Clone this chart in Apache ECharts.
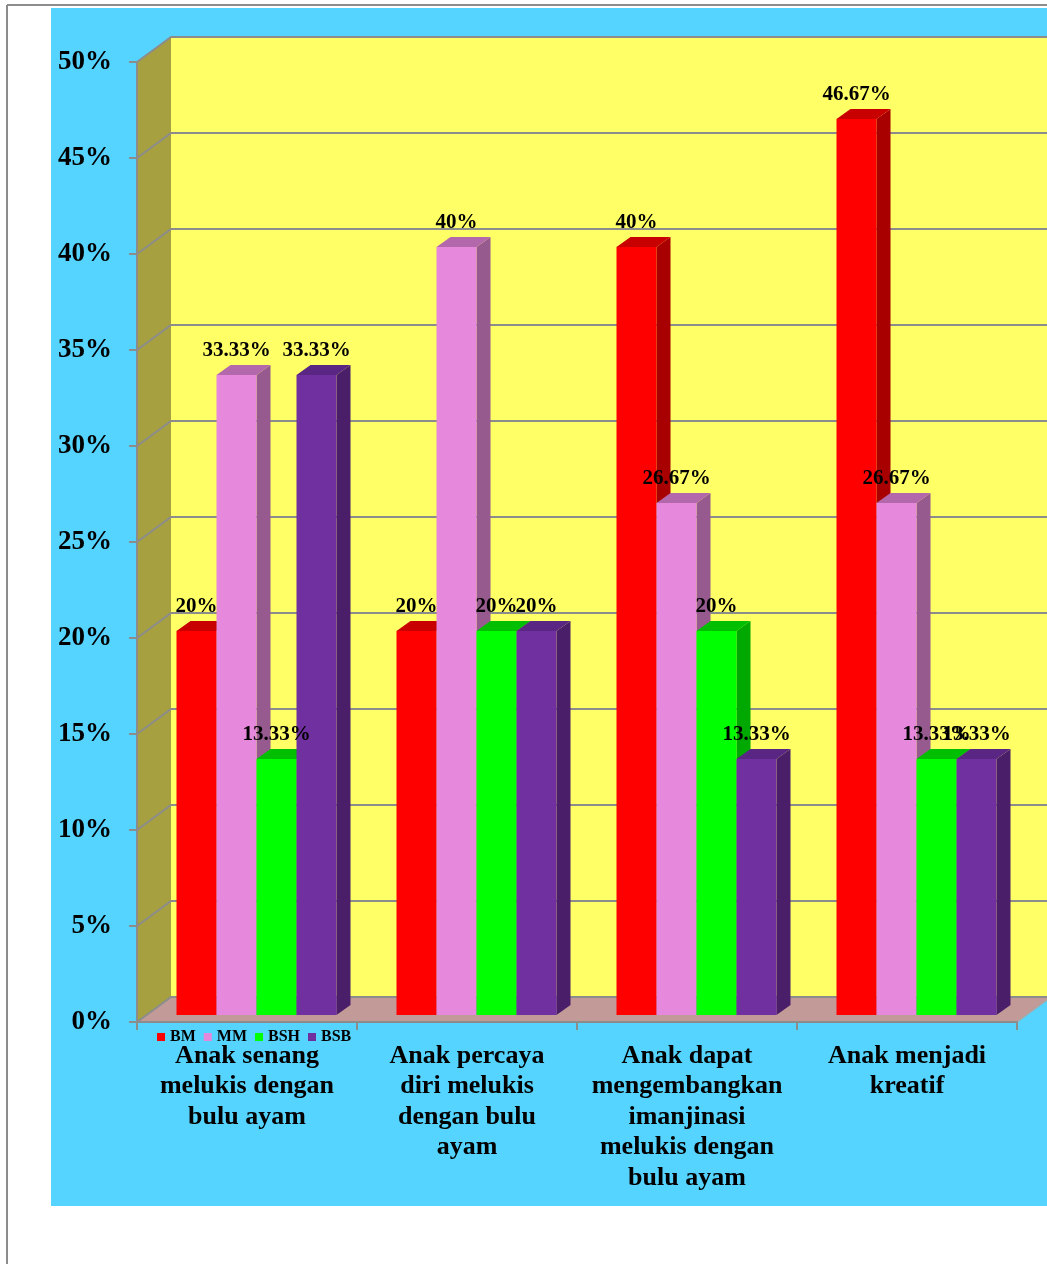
<!DOCTYPE html>
<html>
<head>
<meta charset="utf-8">
<script src="https://cdn.jsdelivr.net/npm/echarts@6/dist/echarts.min.js"></script>
<style>
html,body{margin:0;padding:0;background:#fff;}
#chart{width:1047px;height:1264px;}
</style>
</head>
<body>
<div id="chart"></div>
<script>
// ---- data ----
const categories = [
  'Anak senang\nmelukis dengan\nbulu ayam',
  'Anak percaya\ndiri melukis\ndengan bulu\nayam',
  'Anak dapat\nmengembangkan\nimanjinasi\nmelukis dengan\nbulu ayam',
  'Anak menjadi\nkreatif'
];
const seriesNames = ['BM', 'MM', 'BSH', 'BSB'];
const valuesBM  = [20, 20, 40, 46.67];
const valuesMM  = [33.33, 40, 26.67, 26.67];
const valuesBSH = [13.33, 20, 20, 13.33];
const valuesBSB = [33.33, 20, 13.33, 13.33];
const labelsBM  = ['20%', '20%', '40%', '46.67%'];
const labelsMM  = ['33.33%', '40%', '26.67%', '26.67%'];
const labelsBSH = ['13.33%', '20%', '20%', '13.33%'];
const labelsBSB = ['33.33%', '20%', '13.33%', '13.33%'];
const yTicks = [0, 5, 10, 15, 20, 25, 30, 35, 40, 45, 50];

// ---- styles ----
const FONT = "'Liberation Serif', 'Times New Roman', serif";
const palette = [
  {front: '#FF0000', top: '#C80000', side: '#A80000'},
  {front: '#E688DC', top: '#B468AC', side: '#965A8F'},
  {front: '#00FF00', top: '#00BE00', side: '#00A800'},
  {front: '#7030A0', top: '#5A2684', side: '#4A1E68'}
];
const WALL_DX = 34, WALL_DY = -25;   // depth of the 3D box
const BAR_DX = 9.5, BAR_DY = -7;     // bar front plane offset
const BAR_DEPTH_X = 14, BAR_DEPTH_Y = -10;
const BAR_RATIO = 40 / 220;

const allValues = [valuesBM, valuesMM, valuesBSH, valuesBSB];
const allLabels = [labelsBM, labelsMM, labelsBSH, labelsBSB];

function renderWalls(params, api) {
  const cs = params.coordSys;
  const L = cs.x, R = cs.x + cs.width, T = cs.y, B = cs.y + cs.height;
  const dx = WALL_DX, dy = WALL_DY;
  const ch = [];
  ch.push({type: 'rect', shape: {x: L + dx, y: T + dy, width: cs.width + 10, height: cs.height}, style: {fill: '#FFFF66'}});
  ch.push({type: 'polygon', shape: {points: [[L, T], [L + dx, T + dy], [L + dx, B + dy], [L, B]]}, style: {fill: '#A6A040'}});
  ch.push({type: 'polygon', shape: {points: [[L, B], [R, B], [R + dx, B + dy], [L + dx, B + dy]]}, style: {fill: '#C29A98'}});
  ch.push({type: 'line', shape: {x1: R, y1: B, x2: R + dx, y2: B + dy}, style: {stroke: '#A8A8A8', lineWidth: 1.5}});
  yTicks.forEach(v => {
    const y = api.coord([0, v])[1];
    ch.push({type: 'polyline', shape: {points: [[L, y], [L + dx, y + dy], [R + dx + 10, y + dy]]},
      style: {stroke: '#8C8C8C', lineWidth: 2, fill: null}});
  });
  return {type: 'group', children: ch};
}

function makeBarRender(si) {
  const col = palette[si];
  return function (params, api) {
    const i = api.value(0), v = api.value(1);
    const band = api.size([1, 0])[0];
    const w = band * BAR_RATIO;
    const c = api.coord([i, v]);
    const c0 = api.coord([i, 0]);
    const x0 = c[0] - 2 * w + si * w + BAR_DX;
    const x1 = x0 + w;
    const yT = c[1] + BAR_DY;
    const yB = c0[1] + BAR_DY;
    const ddx = BAR_DEPTH_X, ddy = BAR_DEPTH_Y;
    return {
      type: 'group',
      children: [
        {type: 'polygon', shape: {points: [[x1, yT], [x1 + ddx, yT + ddy], [x1 + ddx, yB + ddy], [x1, yB]]}, style: {fill: col.side}},
        {type: 'polygon', shape: {points: [[x0, yT], [x0 + ddx, yT + ddy], [x1 + ddx, yT + ddy], [x1, yT]]}, style: {fill: col.top}},
        {type: 'rect', shape: {x: x0, y: yT, width: w, height: yB - yT}, style: {fill: col.front}},
        {type: 'text', z2: 100, style: {
          text: allLabels[si][i], x: (x0 + x1) / 2, y: yT - 24,
          align: 'center', verticalAlign: 'middle',
          font: 'bold 21px ' + FONT, fill: '#000'
        }}
      ]
    };
  };
}

const chart = echarts.init(document.getElementById('chart'), null, {renderer: 'canvas'});
const series = [{
  type: 'custom', name: '__walls', silent: true, z: 1,
  data: [[0, 0]], encode: {x: 0, y: 1}, clip: false,
  renderItem: renderWalls
}];
seriesNames.forEach((n, si) => {
  series.push({
    type: 'custom', name: n, z: 2, clip: false,
    itemStyle: {color: palette[si].front},
    data: allValues[si].map((v, i) => [i, v]),
    encode: {x: 0, y: 1},
    renderItem: makeBarRender(si)
  });
});

chart.setOption({
  backgroundColor: '#FFFFFF',
  animation: false,
  graphic: [
    {type: 'rect', shape: {x: 51, y: 8, width: 1000, height: 1198}, style: {fill: '#55D4FF'}, z: -10},
    {type: 'line', shape: {x1: 7, y1: 5, x2: 1047, y2: 5}, style: {stroke: '#8C8C8C', lineWidth: 2}, z: -5},
    {type: 'line', shape: {x1: 7, y1: 5, x2: 7, y2: 1264}, style: {stroke: '#8C8C8C', lineWidth: 2}, z: -5}
  ],
  grid: {left: 137, right: 30, top: 62, bottom: 242, containLabel: false},
  legend: {
    data: seriesNames, left: 157, top: 1029, padding: 0,
    itemWidth: 8, itemHeight: 8, itemGap: 8, icon: 'rect',
    textStyle: {fontFamily: FONT, fontWeight: 'bold', fontSize: 16, color: '#000'}
  },
  xAxis: {
    type: 'category', data: categories, z: 10,
    axisLine: {show: true, lineStyle: {color: '#8C8C8C', width: 2}},
    axisTick: {show: true, length: 8, lineStyle: {color: '#8C8C8C', width: 2}},
    splitLine: {show: false},
    axisLabel: {
      interval: 0, margin: 19, fontFamily: FONT, fontWeight: 'bold', fontSize: 26,
      lineHeight: 30.5, color: '#000', align: 'center'
    }
  },
  yAxis: {
    type: 'value', min: 0, max: 50, interval: 5, z: 10,
    axisLine: {show: true, lineStyle: {color: '#8C8C8C', width: 2}},
    axisTick: {show: true, length: 8, lineStyle: {color: '#8C8C8C', width: 2}},
    splitLine: {show: false},
    axisLabel: {
      formatter: '{value}%', margin: 25, fontFamily: FONT, fontWeight: 'bold',
      fontSize: 27, color: '#000'
    }
  },
  series: series
});
</script>
</body>
</html>
